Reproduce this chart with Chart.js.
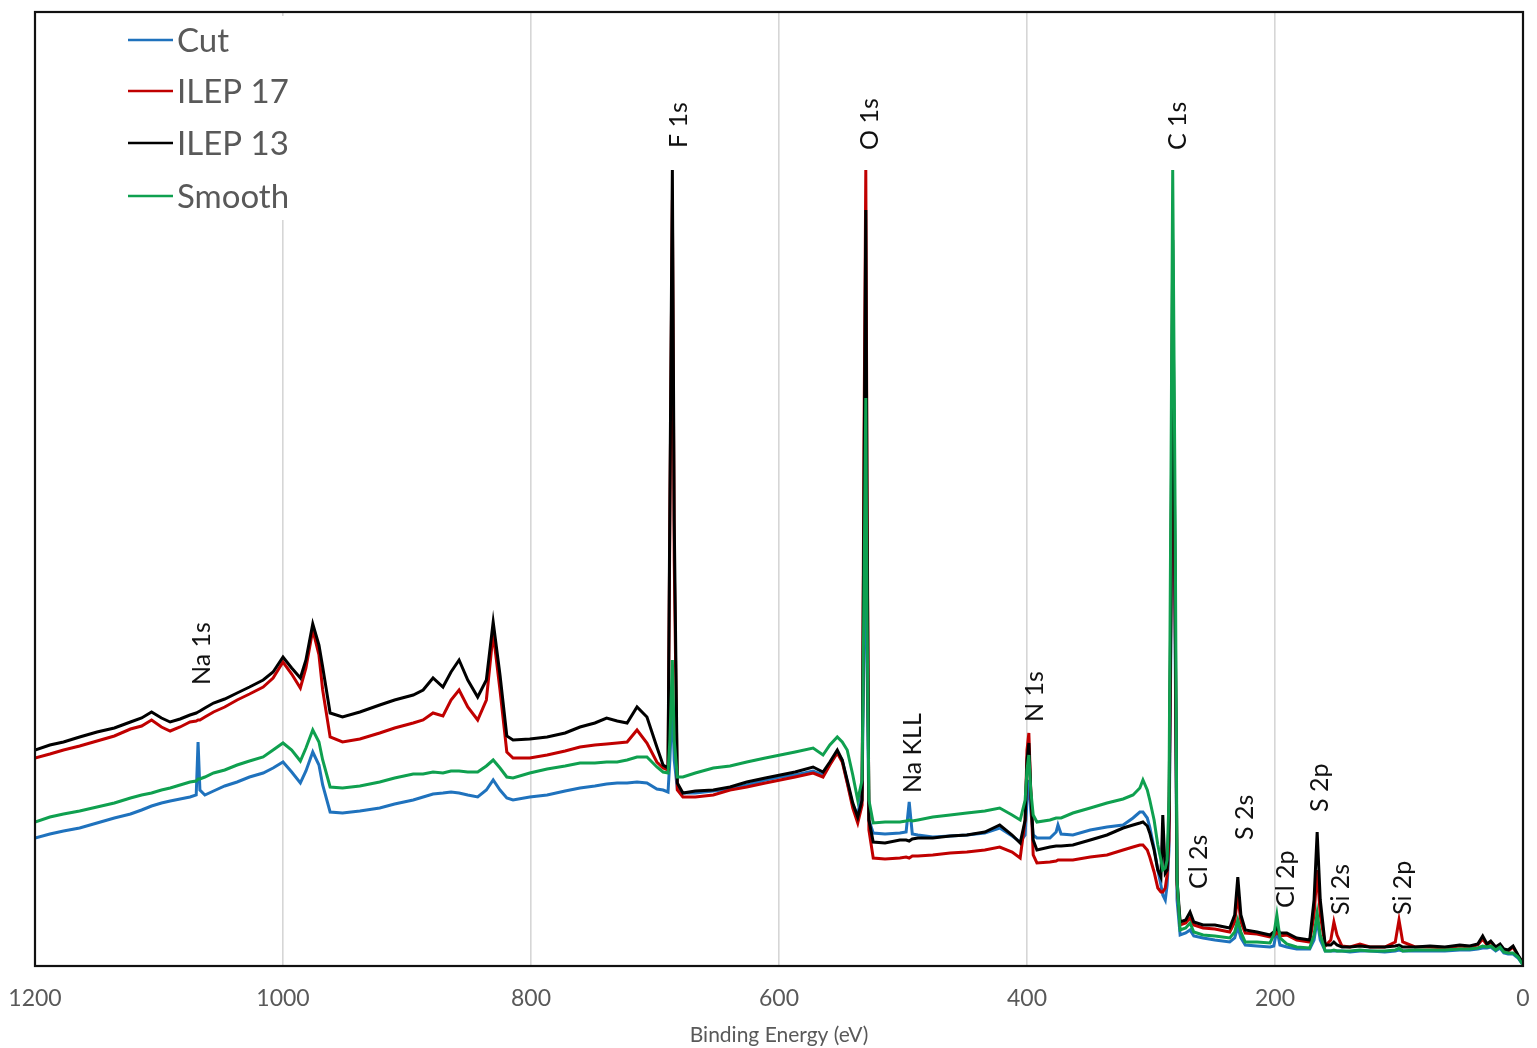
<!DOCTYPE html>
<html>
<head>
<meta charset="utf-8">
<title>XPS survey spectra</title>
<script src="https://cdn.jsdelivr.net/npm/chart.js@4.4.1/dist/chart.umd.min.js"></script>
<style>
  html, body { margin: 0; padding: 0; background: #ffffff; }
  #wrap { width: 1537px; height: 1048px; }
</style>
</head>
<body>
<div id="wrap"><canvas id="xps" width="1537" height="1048"></canvas></div>
<script>
// Binding energy grid (eV), shared by all four survey spectra
const bindingEnergy = [
  1200, 1188, 1177, 1164, 1150, 1136, 1123, 1114, 1106, 1098,
  1091, 1083, 1075, 1070, 1068.5, 1067, 1063, 1056, 1047, 1037,
  1027, 1016, 1008, 1000, 993, 986, 981.5, 976, 971, 968,
  962, 952, 938, 922, 910, 895, 887, 879, 871, 864.5,
  858, 851, 843, 836, 830.5, 825, 819.5, 814.5, 801, 787,
  772.5, 760.5, 748.5, 739, 730.5, 722.5, 714.5, 706.5, 698.5, 693.5,
  689.5, 688, 686, 684.5, 682, 677.5, 667.5, 653, 639.5, 626,
  611, 599, 587, 572.5, 564.5, 559, 553, 549, 545, 540.5,
  536.5, 533, 531.5, 530, 529, 527.5, 524, 514.5, 502.5, 497.5,
  495, 492.5, 488, 476, 462, 448.5, 434, 422, 412, 405.5,
  401.5, 400, 398.5, 397, 395, 392, 381.5, 376.5, 375, 372.5,
  363, 349, 335.5, 322.5, 314.5, 309, 306.5, 303, 301, 297.5,
  294.5, 292, 290.5, 288.5, 287, 285.5, 284, 282.5, 280.5, 279,
  276.5, 272, 268.5, 265.5, 258, 248.5, 236.5, 232.5, 230, 227.5,
  224, 214.5, 204, 201, 198.5, 196, 190.5, 182.5, 172, 168.5,
  166, 163.5, 159.5, 155, 152.5, 150, 146, 139.5, 131.5, 123.5,
  111.5, 103, 100, 97, 87, 75, 63, 51, 43, 36.5,
  32.5, 29, 26, 22, 18.5, 15.5, 12, 8, 4, 0
];

// Intensity (arbitrary units) for each sample
const cutCounts = [
  128, 132, 135, 138, 143, 148, 152, 156, 160, 163,
  165, 167, 169, 171, 224, 176, 171, 175, 180, 184,
  189, 193, 198, 204, 194, 183, 195, 214, 201, 181,
  154, 153, 155, 158, 162, 166, 169, 172, 173, 174,
  173, 171, 169, 176, 186, 176, 168, 166, 169, 171,
  175, 178, 180, 182, 183, 183, 184, 183, 177, 176,
  174, 206, 266, 206, 177, 173, 173, 175, 177, 181,
  186, 189, 191, 195, 191, 202, 214, 206, 184, 161,
  151, 176, 316, 516, 306, 146, 133, 132, 133, 134,
  164, 132, 131, 129, 130, 131, 133, 138, 130, 124,
  131, 166, 186, 156, 131, 128, 128, 134, 141, 132,
  131, 136, 139, 141, 148, 154, 154, 148, 139, 118,
  96, 81, 71, 66, 81, 116, 316, 636, 316, 66,
  31, 33, 36, 30, 28, 26, 24, 28, 39, 28,
  21, 20, 19, 20, 36, 21, 19, 17, 17, 26,
  46, 26, 15, 15, 15, 15, 15, 14, 15, 15,
  14, 15, 16, 15, 15, 15, 15, 16, 16, 17,
  18, 18, 19, 15, 18, 13, 12, 12, 8, 1
];

const ilep17Counts = [
  208, 212, 216, 220, 225, 230, 237, 240, 246, 239,
  235, 239, 244, 245, 246, 246, 249, 254, 259, 266,
  272, 279, 288, 304, 292, 278, 298, 336, 311, 276,
  229, 224, 227, 233, 238, 243, 246, 253, 250, 266,
  276, 259, 246, 266, 333, 276, 214, 208, 208, 211,
  215, 219, 221, 222, 223, 224, 236, 223, 204, 198,
  196, 446, 766, 406, 176, 169, 169, 171, 176, 179,
  183, 186, 189, 193, 189, 201, 213, 204, 183, 158,
  143, 161, 516, 796, 486, 136, 108, 107, 108, 109,
  108, 110, 110, 111, 113, 114, 116, 119, 114, 108,
  146, 216, 233, 176, 111, 103, 104, 105, 106, 106,
  106, 109, 111, 116, 119, 121, 121, 116, 109, 94,
  78, 74, 74, 78, 91, 126, 346, 686, 346, 81,
  41, 43, 48, 41, 38, 37, 34, 44, 71, 44,
  33, 32, 29, 30, 34, 30, 31, 26, 24, 51,
  96, 51, 20, 26, 44, 31, 20, 19, 22, 19,
  19, 24, 46, 24, 19, 19, 18, 20, 19, 21,
  27, 21, 24, 18, 21, 16, 15, 19, 10, 3
];

const ilep13Counts = [
  216, 221, 224, 229, 234, 238, 244, 248, 254, 248,
  244, 247, 251, 253, 254, 255, 258, 263, 267, 273,
  279, 286, 294, 309, 298, 288, 306, 342, 321, 299,
  253, 249, 254, 261, 266, 271, 276, 288, 279, 294,
  306, 286, 269, 286, 344, 291, 230, 226, 227, 229,
  233, 239, 243, 248, 245, 243, 259, 249, 219, 201,
  198, 466, 796, 446, 183, 173, 175, 176, 179, 184,
  188, 191, 194, 199, 194, 204, 216, 206, 186, 163,
  149, 166, 466, 756, 446, 146, 124, 123, 126, 126,
  125, 127, 128, 128, 130, 131, 134, 141, 131, 123,
  146, 206, 223, 176, 126, 116, 119, 120, 120, 120,
  121, 126, 131, 138, 141, 143, 144, 140, 133, 116,
  96, 89, 151, 93, 96, 146, 366, 726, 366, 86,
  44, 46, 54, 44, 41, 41, 38, 51, 89, 51,
  36, 34, 31, 34, 38, 33, 33, 28, 26, 66,
  134, 66, 21, 21, 24, 21, 19, 19, 20, 19,
  19, 20, 21, 19, 19, 20, 19, 21, 20, 22,
  30, 22, 25, 19, 22, 17, 16, 20, 11, 3
];

const smoothCounts = [
  144, 149, 152, 155, 159, 163, 168, 171, 173, 176,
  178, 181, 184, 185, 187, 187, 189, 193, 196, 201,
  205, 209, 216, 223, 216, 205, 218, 236, 224, 206,
  179, 178, 180, 184, 188, 192, 192, 194, 193, 195,
  195, 194, 194, 200, 206, 198, 189, 188, 193, 197,
  200, 203, 203, 204, 204, 206, 209, 209, 199, 194,
  193, 226, 306, 226, 189, 189, 193, 198, 200, 204,
  208, 211, 214, 218, 211, 221, 229, 224, 216, 191,
  166, 186, 366, 568, 346, 166, 143, 144, 144, 145,
  146, 145, 146, 149, 151, 153, 155, 158, 151, 146,
  166, 196, 211, 176, 151, 144, 146, 148, 148, 148,
  153, 158, 163, 167, 171, 178, 186, 176, 166, 146,
  121, 106, 96, 98, 106, 166, 466, 796, 446, 86,
  36, 38, 43, 34, 31, 30, 28, 34, 46, 34,
  24, 24, 23, 31, 51, 28, 22, 19, 18, 31,
  53, 31, 15, 15, 16, 15, 15, 15, 16, 15,
  15, 16, 18, 15, 16, 16, 16, 17, 17, 18,
  20, 19, 20, 16, 19, 14, 13, 13, 9, 1
];

const seriesNames = ['Cut', 'ILEP 17', 'ILEP 13', 'Smooth'];

// Peak assignments: label text, binding energy, and the intensity where the label starts
const peakNames    = ['Na 1s', 'F 1s', 'O 1s', 'Na KLL', 'N 1s', 'C 1s', 'Cl 2s', 'S 2s', 'Cl 2p', 'S 2p', 'Si 2s', 'Si 2p'];
const peakEnergies = [1065, 681, 527, 492, 394, 278, 261, 224, 191, 164, 147, 97];
const peakLevels   = [281, 818, 816, 173, 244, 816, 77, 126, 58, 154, 51, 51];

// ---- styling ----
const seriesColors = ['#1f72bd', '#c00000', '#000000', '#0fa04f'];
const drawOrder = [3, 2, 1, 0];   // Smooth on top, Cut underneath
const FONT = 'Lato, "Open Sans", "Liberation Sans", sans-serif';

const countSets = [cutCounts, ilep17Counts, ilep13Counts, smoothCounts];
const datasets = countSets.map((counts, k) => ({
  label: seriesNames[k],
  data: bindingEnergy.map((e, i) => ({ x: e, y: counts[i] })),
  borderColor: seriesColors[k],
  backgroundColor: seriesColors[k],
  borderWidth: 3,
  pointRadius: 0,
  tension: 0,
  fill: false,
  order: drawOrder[k]
}));

// Frame around the plot area, in-plot legend and rotated peak labels
const decorations = {
  id: 'decorations',
  afterDraw(chart) {
    const { ctx, chartArea: a, scales } = chart;
    const xs = scales.x, ys = scales.y;

    // peak labels
    ctx.save();
    ctx.fillStyle = '#111111';
    ctx.font = '25px ' + FONT;
    ctx.textAlign = 'left';
    ctx.textBaseline = 'middle';
    peakNames.forEach((name, i) => {
      const px = xs.getPixelForValue(peakEnergies[i]);
      const py = ys.getPixelForValue(peakLevels[i]);
      ctx.save();
      ctx.translate(px, py);
      ctx.rotate(-Math.PI / 2);
      ctx.fillText(name, 0, 0);
      ctx.restore();
    });
    ctx.restore();

    // legend
    ctx.save();
    ctx.fillStyle = '#ffffff';
    ctx.fillRect(a.left + 84, a.top + 4, 190, 204);
    const rows = [a.top + 28, a.top + 79, a.top + 131, a.top + 184];
    ctx.font = '33px ' + FONT;
    ctx.textAlign = 'left';
    ctx.textBaseline = 'middle';
    seriesNames.forEach((name, k) => {
      ctx.strokeStyle = seriesColors[k];
      ctx.lineWidth = 2.6;
      ctx.beginPath();
      ctx.moveTo(a.left + 93, rows[k]);
      ctx.lineTo(a.left + 138, rows[k]);
      ctx.stroke();
      ctx.fillStyle = '#595959';
      ctx.fillText(name, a.left + 142, rows[k] + 1);
    });
    ctx.restore();

    // frame
    ctx.save();
    ctx.strokeStyle = '#111111';
    ctx.lineWidth = 2.2;
    ctx.strokeRect(a.left, a.top, a.right - a.left, a.bottom - a.top);
    ctx.restore();
  }
};

new Chart(document.getElementById('xps'), {
  type: 'line',
  data: { datasets },
  options: {
    responsive: false,
    animation: false,
    devicePixelRatio: 1,
    layout: { padding: { left: 35, right: 14, top: 12, bottom: 0 } },
    plugins: { legend: { display: false }, tooltip: { enabled: false } },
    scales: {
      x: {
        type: 'linear',
        reverse: true,
        min: 0,
        max: 1200,
        afterFit(scale) {
          scale.height = 82;
          scale.paddingLeft = 0;
          scale.paddingRight = 0;
        },
        border: { display: false },
        grid: { color: '#d6d6d6', lineWidth: 1.6, drawTicks: false },
        ticks: {
          stepSize: 200,
          padding: 19,
          color: '#595959',
          font: { family: FONT, size: 23 },
          callback: v => String(v),
          maxRotation: 0
        },
        title: {
          display: true,
          text: 'Binding Energy (eV)',
          color: '#595959',
          font: { family: FONT, size: 21, lineHeight: 1.2 },
          padding: { top: 0, bottom: 0 }
        }
      },
      y: {
        display: false,
        min: 0,
        max: 954
      }
    }
  },
  plugins: [decorations]
});
</script>
</body>
</html>
